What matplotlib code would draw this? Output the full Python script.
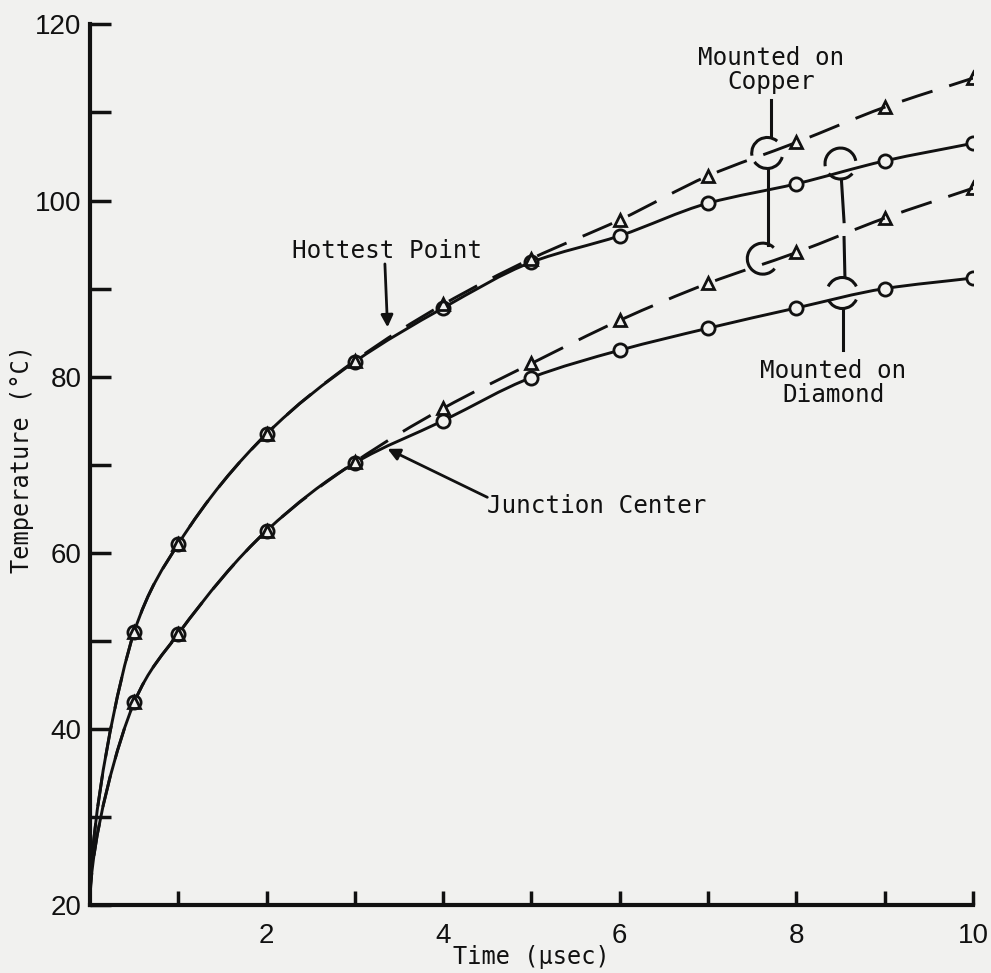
import matplotlib
matplotlib.use("Agg")
import matplotlib.pyplot as plt
import numpy as np
from matplotlib.path import Path
from matplotlib.patches import PathPatch, Arc
from matplotlib.transforms import IdentityTransform, ScaledTranslation

# time in microseconds
t = [0.5, 1, 2, 3, 4, 5, 6, 7, 8, 9, 10]
# hottest point, temperature degC
hot_diamond = [51.0, 61.0, 73.5, 81.7, 87.8, 93.0, 96.0, 99.7, 101.9, 104.5, 106.5]
hot_copper = [51.0, 61.0, 73.5, 81.8, 88.2, 93.4, 97.8, 102.8, 106.6, 110.6, 113.9]
# junction center
junc_diamond = [43.0, 50.8, 62.5, 70.2, 75.0, 79.9, 83.0, 85.5, 87.8, 90.0, 91.2]
junc_copper = [43.0, 50.8, 62.5, 70.3, 76.4, 81.5, 86.4, 90.6, 94.1, 98.0, 101.4]
t0, T0 = 0.0, 20.0  # curves start at the origin

bg = '#f1f1ef'
ink = '#111111'
mono = 'DejaVu Sans Mono'


def smooth(xs, ys):
    # monotone cubic (pchip-like) through the points as bezier path,
    # vertical tangent at the origin
    x = np.array([t0] + list(xs))
    y = np.array([T0] + list(ys))
    h = np.diff(x)
    d = np.diff(y) / h
    m = np.zeros(len(x))
    for i in range(1, len(x) - 1):
        w1 = 2*h[i] + h[i-1]
        w2 = h[i] + 2*h[i-1]
        m[i] = (w1 + w2) / (w1/d[i-1] + w2/d[i])
    m[-1] = d[-1]
    verts = [(x[0], y[0])]
    codes = [Path.MOVETO]
    for i in range(len(x) - 1):
        if i == 0:
            c1 = (x[0], y[0] + (y[1]-y[0])/3)
        else:
            c1 = (x[i] + h[i]/3, y[i] + m[i]*h[i]/3)
        c2 = (x[i+1] - h[i]/3, y[i+1] - m[i+1]*h[i]/3)
        verts += [c1, c2, (x[i+1], y[i+1])]
        codes += [Path.CURVE4]*3
    return Path(verts, codes)


fig = plt.figure(figsize=(9.91, 9.73), dpi=100, facecolor=bg)
ax = fig.add_axes([0.0908, 0.0699, 0.891, 0.905])
ax.set_facecolor(bg)
ax.set_xlim(0, 10)
ax.set_ylim(20, 120)

for ys in (hot_diamond, junc_diamond):
    ax.add_patch(PathPatch(smooth(t, ys), fill=False, ec=ink, lw=2.1, zorder=2))
for ys in (hot_copper, junc_copper):
    ax.add_patch(PathPatch(smooth(t, ys), fill=False, ec=ink, lw=2.1,
                           ls=(0, (11, 6)), zorder=2))

for ys in (hot_diamond, junc_diamond):
    ax.plot(t, ys, ls='none', marker='o', ms=9.5, mfc=bg, mec=ink, mew=2.0, zorder=3)
for ys in (hot_copper, junc_copper):
    ax.plot(t, ys, ls='none', marker='^', ms=8.5, mfc='none', mec=ink, mew=2.0, zorder=4)

# axes styling
for s in ('top', 'right'):
    ax.spines[s].set_visible(False)
for s in ('left', 'bottom'):
    ax.spines[s].set_linewidth(3.0)
    ax.spines[s].set_color(ink)

ax.set_xticks([2, 4, 6, 8, 10])
ax.set_xticks([1, 3, 5, 7, 9], minor=True)
ax.set_yticks([20, 40, 60, 80, 100, 120])
ax.set_yticks([30, 50, 70, 90, 110], minor=True)
ax.tick_params(axis='x', which='both', direction='in', length=10, width=2.5,
               pad=13, color=ink)
ax.tick_params(axis='y', which='both', direction='in', length=15, width=2.5,
               pad=6, color=ink)
for lab in ax.get_xticklabels() + ax.get_yticklabels():
    lab.set_family('Liberation Sans')
    lab.set_fontsize(20)
    lab.set_color(ink)

ax.set_xlabel('Time (\u03bcsec)', family=mono, fontsize=17, color=ink, labelpad=-3)
ax.set_ylabel('Temperature (\u00b0C)', family=mono, fontsize=17, color=ink)
ax.yaxis.set_label_coords(-0.063, 0.506)

# annotations
arrow = dict(arrowstyle='-|>', color=ink, lw=2.0, mutation_scale=18,
             shrinkA=0, shrinkB=0)
ax.text(2.29, 94.3, 'Hottest Point', family=mono, fontsize=17.5, color=ink,
        ha='left', va='center')
ax.annotate('', xy=(3.37, 85.6), xytext=(3.34, 92.8), arrowprops=arrow)
ax.text(4.5, 65.3, 'Junction Center', family=mono, fontsize=17.5, color=ink,
        ha='left', va='center')
ax.annotate('', xy=(3.37, 71.8), xytext=(4.5, 66.3), arrowprops=arrow)

ax.text(7.71, 114.8, 'Mounted on\nCopper', family=mono, fontsize=17.5, color=ink,
        ha='center', va='center', linespacing=1.0)
ax.text(8.42, 79.3, 'Mounted on\nDiamond', family=mono, fontsize=17.5, color=ink,
        ha='center', va='center', linespacing=1.0)


def bracket(xc, yc, spans, d=31):
    # open circle drawn in pixels around a data point
    tr = IdentityTransform() + ScaledTranslation(xc, yc, ax.transData)
    for a1, a2 in spans:
        ax.add_patch(Arc((0, 0), d, d, theta1=a1, theta2=a2, lw=2.2,
                         color=ink, transform=tr, zorder=5))


bracket(7.67, 105.4, [(50, 190), (215, 345)])
bracket(7.62, 93.4, [(45, 320)])
ax.plot([7.71, 7.71], [107.4, 111.4], color=ink, lw=2.2)
ax.plot([7.68, 7.68], [94.9, 103.6], color=ink, lw=2.2)

bracket(8.5, 104.2, [(10, 190), (220, 320)])
bracket(8.52, 89.5, [(25, 155), (205, 335)])
ax.plot([8.51, 8.54], [102.4, 97.6], color=ink, lw=2.2)
ax.plot([8.54, 8.55], [95.8, 91.3], color=ink, lw=2.2)
ax.plot([8.53, 8.53], [87.6, 83.0], color=ink, lw=2.2)

fig.savefig('out.png', dpi=100, facecolor=bg)
